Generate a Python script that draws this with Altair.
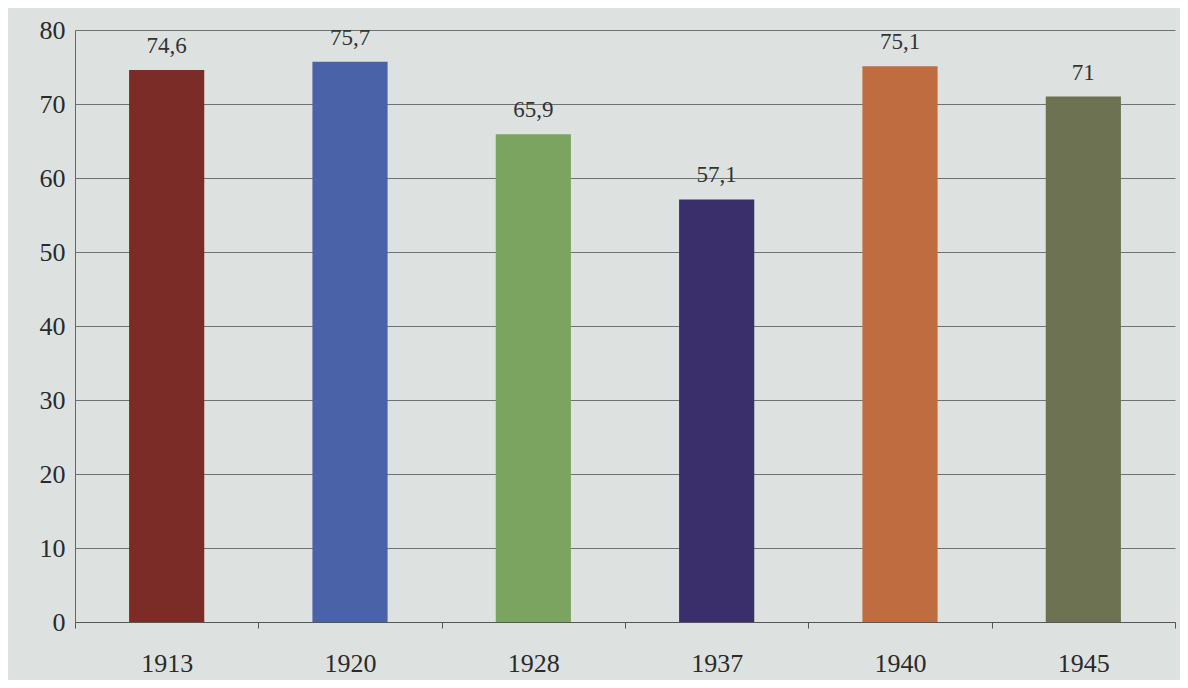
import altair as alt
import pandas as pd

years = ["1913", "1920", "1928", "1937", "1940", "1945"]
values = [74.6, 75.7, 65.9, 57.1, 75.1, 71]
labels = ["74,6", "75,7", "65,9", "57,1", "75,1", "71"]
colors = ["#7b2c27", "#4a62a8", "#7ba460", "#3a2f6a", "#bf6d40", "#6d7352"]

df = pd.DataFrame({"year": years, "value": values, "label": labels})

x = alt.X("year:N", sort=years, title=None,
          scale=alt.Scale(paddingInner=0, paddingOuter=0),
          axis=alt.Axis(labelAngle=0, labelFont="Liberation Serif", labelFontSize=26,
                        labelColor="#2a2a2a", labelPadding=22, tickBand="extent",
                        tickColor="#555555", tickSize=6, domainColor="#555555",
                        domainWidth=1.2, grid=False))
y = alt.Y("value:Q", title=None,
          scale=alt.Scale(domain=[0, 80], nice=False),
          axis=alt.Axis(values=list(range(0, 81, 10)), labelFont="Liberation Serif",
                        labelFontSize=26, labelColor="#2a2a2a", labelPadding=10,
                        tickSize=0, domainColor="#666666", gridColor="#555555",
                        gridWidth=1.1, gridOpacity=0.8))

bars = alt.Chart(df).mark_bar(width=alt.RelativeBandSize(0.41)).encode(
    x=x, y=y,
    color=alt.Color("year:N", sort=years, scale=alt.Scale(domain=years, range=colors), legend=None),
)
text = alt.Chart(df).mark_text(dy=-24, font="Liberation Serif", fontSize=23, color="#333333").encode(
    x=alt.X("year:N", sort=years), y="value:Q", text="label:N"
)

chart = (bars + text).properties(
    width=1100, height=592,
    background="#dde2e1",
    padding={"left": 67, "top": 22, "right": 5, "bottom": 58},
    autosize=alt.AutoSizeParams(type="none"),
).configure_view(stroke=None)

chart.save("out.html", embed_options={"renderer": "svg", "actions": False})
